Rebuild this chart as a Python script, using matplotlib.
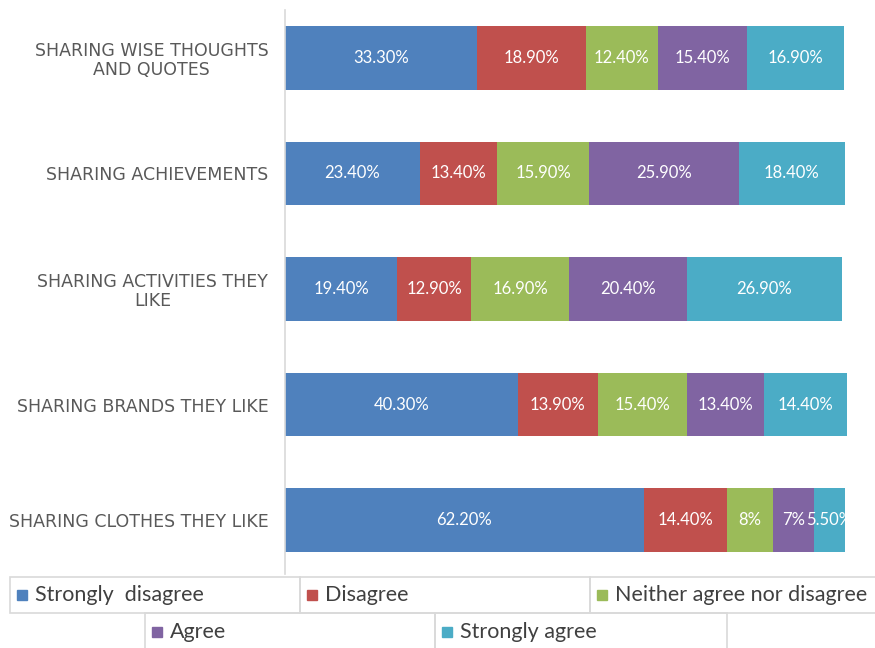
import matplotlib
matplotlib.use("Agg")
from matplotlib import pyplot as plt
from matplotlib.patches import Rectangle

# categories listed bottom -> top
categories = [
    "SHARING CLOTHES THEY LIKE",
    "SHARING BRANDS THEY LIKE",
    "SHARING ACTIVITIES THEY\nLIKE",
    "SHARING ACHIEVEMENTS",
    "SHARING WISE THOUGHTS\nAND QUOTES",
]
series = ["Strongly  disagree", "Disagree", "Neither agree nor disagree",
          "Agree", "Strongly agree"]
colors = ["#4F81BD", "#C0504D", "#9BBB59", "#8064A2", "#4BACC6"]

strongly_disagree = [62.2, 40.3, 19.4, 23.4, 33.3]
disagree = [14.4, 13.9, 12.9, 13.4, 18.9]
neither = [8.0, 15.4, 16.9, 15.9, 12.4]
agree = [7.0, 13.4, 20.4, 25.9, 15.4]
strongly_agree = [5.5, 14.4, 26.9, 18.4, 16.9]
values = [strongly_disagree, disagree, neither, agree, strongly_agree]

W, H = 875, 648
plt.rcParams['font.family'] = ['Lato', 'DejaVu Sans']


def fx(px):
    return px / W


def fy(py):
    return 1 - py / H


def pct(v):
    if float(v).is_integer():
        return f"{int(v)}%"
    return f"{v:.2f}%"


fig = plt.figure(figsize=(W / 100, H / 100), dpi=100, facecolor="white")
ax = fig.add_axes([fx(285), fy(574), fx(862) - fx(285), fy(10) - fy(574)])

ypos = list(range(len(categories)))
left = [0.0] * len(categories)
for name, vals, col in zip(series, values, colors):
    bars = ax.barh(ypos, vals, left=left, height=0.55, color=col, label=name)
    for b, v in zip(bars, vals):
        ax.text(b.get_x() + b.get_width() / 2, b.get_y() + b.get_height() / 2,
                pct(v), ha="center", va="center", color="white", fontsize=12)
    left = [l + v for l, v in zip(left, vals)]

ax.set_xlim(0, 100)
ax.set_ylim(-0.466, 4.414)
ax.set_yticks(ypos)
ax.set_yticklabels(categories, fontsize=12.5, color="#595959",
                   family="DejaVu Sans", multialignment="center",
                   linespacing=1.1)
ax.tick_params(axis="y", length=0, pad=12)
ax.set_xticks([])
for s in ["top", "right", "bottom"]:
    ax.spines[s].set_visible(False)
ax.spines["left"].set_color("#D9D9D9")
ax.spines["left"].set_linewidth(1.2)

# legend drawn as a bordered grid, like the original
grid_col = "#D9D9D9"
row1 = [(10, 300), (300, 590), (590, 890)]
row2 = [(145, 435), (435, 727)]
cells = [(c, 577, 613, 595) for c in row1] + [(c, 613, 660, 632) for c in row2]
for (x0, x1), y0, y1, yc in cells:
    fig.add_artist(Rectangle((fx(x0), fy(y1)), fx(x1) - fx(x0), fy(y0) - fy(y1),
                             transform=fig.transFigure, fill=False,
                             edgecolor=grid_col, linewidth=1.2))
for ((x0, x1), y0, y1, yc), name, col in zip(cells, series, colors):
    fig.add_artist(Rectangle((fx(x0 + 7), fy(yc + 5)), fx(10), 10 / H,
                             transform=fig.transFigure, color=col))
    fig.text(fx(x0 + 25), fy(yc), name, ha="left", va="center",
             fontsize=15.5, color="#404040")

fig.savefig("out.png", dpi=100)
